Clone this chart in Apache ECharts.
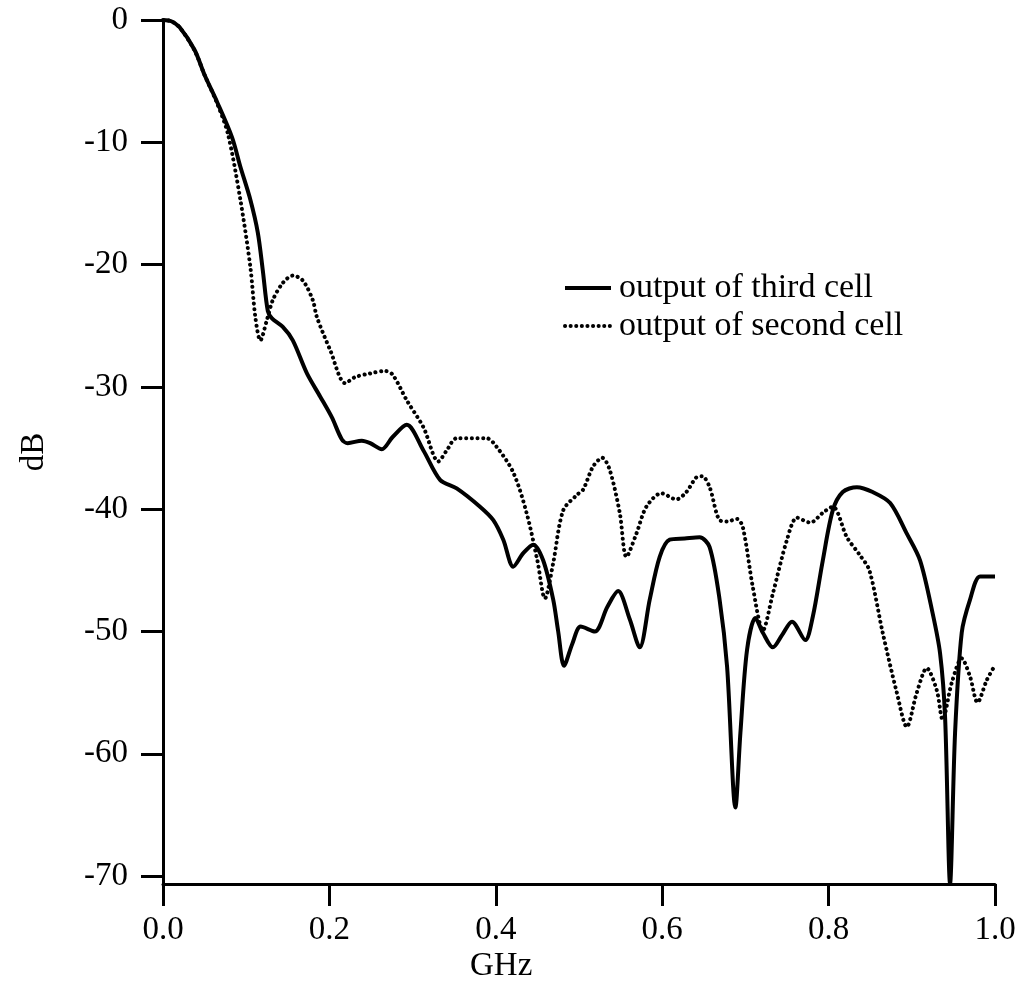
<!DOCTYPE html>
<html>
<head>
<meta charset="utf-8">
<script src="https://cdn.jsdelivr.net/npm/echarts@6/dist/echarts.min.js"></script>
<style>html,body{margin:0;padding:0;background:#fff;}#c{width:1019px;height:995px;}</style>
</head>
<body>
<div id="c"></div>
<script>
// Frequency (GHz) and level (dB)
const thirdX = [0,0.010,0.020,0.038,0.050,0.065,0.083,0.093,0.105,0.114,0.120,0.126,0.131,0.144,0.156,0.173,0.189,0.203,0.215,0.222,0.239,0.249,0.263,0.276,0.293,0.313,0.333,0.353,0.381,0.397,0.409,0.421,0.433,0.445,0.457,0.469,0.475,0.482,0.492,0.502,0.519,0.534,0.547,0.561,0.573,0.585,0.597,0.609,0.627,0.645,0.657,0.669,0.678,0.688,0.694,0.702,0.712,0.721,0.733,0.744,0.756,0.772,0.781,0.793,0.805,0.817,0.834,0.853,0.874,0.894,0.910,0.925,0.934,0.940,0.946,0.952,0.960,0.970,0.982,0.998,1.0];
const thirdY = [0,-0.1,-0.6,-2.45,-4.5,-6.7,-9.6,-12.0,-14.7,-17.4,-20.5,-23.8,-24.4,-25.1,-26.2,-28.9,-30.8,-32.5,-34.3,-34.6,-34.4,-34.6,-35.1,-34.1,-33.1,-35.2,-37.6,-38.3,-39.8,-40.9,-42.5,-44.7,-43.6,-42.9,-44.2,-47.4,-50.0,-52.8,-51.0,-49.6,-50.0,-48.0,-46.7,-49.0,-51.3,-47.4,-43.9,-42.5,-42.4,-42.3,-43.1,-47.4,-52.9,-64.4,-58.3,-51.5,-48.9,-50.1,-51.3,-50.3,-49.2,-50.7,-48.8,-44.2,-40.1,-38.6,-38.2,-38.6,-39.5,-42.0,-44.2,-48.5,-51.8,-57.0,-70.6,-58.3,-50.1,-47.4,-45.5,-45.5,-45.5];
const secondX = [0,0.010,0.020,0.038,0.050,0.065,0.078,0.093,0.105,0.111,0.117,0.125,0.132,0.144,0.156,0.168,0.180,0.185,0.201,0.219,0.231,0.249,0.267,0.276,0.293,0.313,0.331,0.341,0.353,0.389,0.401,0.421,0.437,0.450,0.459,0.469,0.481,0.498,0.505,0.517,0.528,0.537,0.549,0.557,0.569,0.581,0.599,0.617,0.629,0.641,0.648,0.657,0.669,0.678,0.690,0.697,0.709,0.721,0.733,0.750,0.762,0.778,0.793,0.805,0.822,0.837,0.849,0.865,0.882,0.894,0.906,0.918,0.930,0.937,0.948,0.960,0.970,0.979,0.990,0.998];
const secondY = [0,-0.1,-0.6,-2.5,-4.5,-6.8,-9.3,-14.7,-20.2,-24.3,-26.2,-24.5,-22.9,-21.5,-20.9,-21.3,-22.9,-24.3,-27.0,-29.7,-29.2,-28.9,-28.7,-29.0,-31.1,-33.3,-36.1,-35.2,-34.2,-34.2,-34.9,-37.0,-40.3,-44.2,-47.3,-44.4,-40.1,-38.8,-38.4,-36.5,-35.8,-36.8,-40.3,-43.9,-42.0,-39.8,-38.7,-39.2,-38.6,-37.4,-37.3,-38.2,-40.9,-41.0,-40.8,-41.5,-46.4,-49.9,-46.9,-42.5,-40.7,-41.1,-40.3,-39.8,-42.3,-43.7,-45.0,-50.1,-55.0,-57.8,-55.0,-53.0,-54.8,-57.2,-54.2,-52.2,-53.7,-55.8,-54.0,-53.0];
const yTicks = [0,-10,-20,-30,-40,-50,-60,-70];
const seriesNames = ['output of third cell','output of second cell'];

const zip = (xs, ys) => xs.map((x, i) => [x, ys[i]]);
const FONT = '"Liberation Serif", "Times New Roman", serif';
const chart = echarts.init(document.getElementById('c'));
chart.setOption({
  animation: false,
  backgroundColor: '#fff',
  color: ['#000', '#000'],
  grid: {left: 163, right: 24, top: 20, bottom: 111},
  xAxis: {
    type: 'value', min: 0, max: 1, interval: 0.2,
    axisLine: {onZero: false, lineStyle: {color: '#000', width: 3}},
    axisTick: {inside: false, length: 22, lineStyle: {color: '#000', width: 3}},
    axisLabel: {color: '#000', fontFamily: FONT, fontSize: 33, margin: 30,
      formatter: v => v.toFixed(1)},
    splitLine: {show: false}
  },
  yAxis: {
    type: 'value', min: -70.65, max: 0,
    name: 'dB', nameLocation: 'middle', nameGap: 112, nameRotate: 90,
    nameTextStyle: {color: '#000', fontFamily: FONT, fontSize: 33},
    axisLine: {show: true, onZero: false, lineStyle: {color: '#000', width: 3}},
    axisTick: {show: true, length: 22, customValues: yTicks, lineStyle: {color: '#000', width: 3}},
    axisLabel: {color: '#000', fontFamily: FONT, fontSize: 33, margin: 35, customValues: yTicks},
    splitLine: {show: false}
  },
  legend: {
    orient: 'vertical', left: 558, top: 266, itemGap: 4,
    itemWidth: 46, itemHeight: 16,
    itemStyle: {opacity: 0},
    lineStyle: {width: 4},
    textStyle: {color: '#000', fontFamily: FONT, fontSize: 34, padding: [0,0,0,3]},
    data: seriesNames
  },
  graphic: [{
    type: 'text', left: 470, top: 950,
    style: {text: 'GHz', fill: '#000', font: '33px ' + FONT}
  }],
  series: [{
    name: seriesNames[0], type: 'line', data: zip(thirdX, thirdY),
    showSymbol: false, symbol: 'none', smooth: 0.3,
    itemStyle: {color: '#000'},
    lineStyle: {color: '#000', width: 4}
  }, {
    name: seriesNames[1], type: 'line', data: zip(secondX, secondY),
    showSymbol: false, symbol: 'none', smooth: 0.3,
    itemStyle: {color: '#000'},
    lineStyle: {color: '#000', width: 4, type: [0.1, 5.5], cap: 'round'}
  }]
});
</script>
</body>
</html>
